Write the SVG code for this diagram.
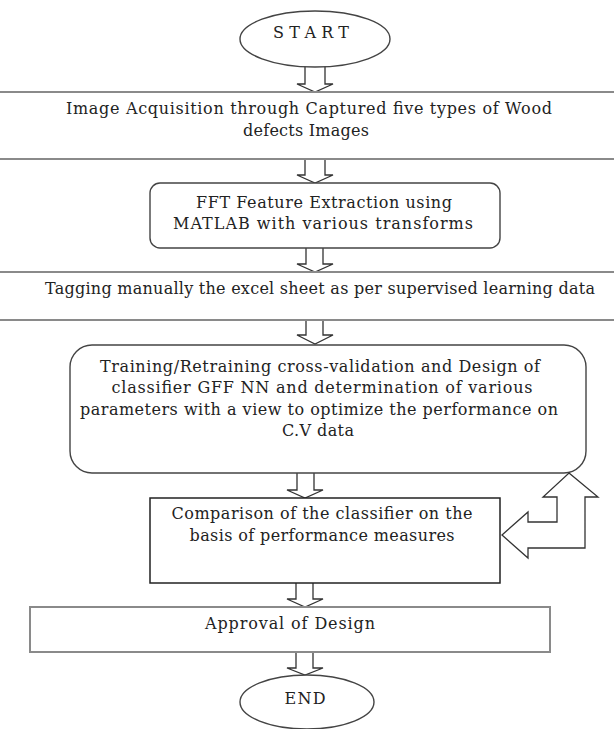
<svg xmlns="http://www.w3.org/2000/svg" width="614" height="729" viewBox="0 0 614 729">
<style>
text{font-family:"DejaVu Serif","Liberation Serif",serif;font-size:16px;fill:#222;text-anchor:middle}
.gl{stroke:#8a8a8a;stroke-width:2;fill:none}
.bx{stroke:#444;stroke-width:1.4;fill:#fff}
.ar{stroke:#333;stroke-width:1.3;fill:#fff}
</style>
<rect width="614" height="729" fill="#fff"/>
<g id="connectors">
<path class="ar" d="M305,66 V84 H297 L315,92 L333,84 H325 V66"/>
<path class="ar" d="M305,159 V175 H297 L315,183 L333,175 H325 V159"/>
<path class="ar" d="M306,248 V264 H297 L315,272 L333,264 H323 V248"/>
<path class="ar" d="M306,320 V335 H297 L315,344 L333,335 H323 V320"/>
<path class="ar" d="M297,473 V490 H287 L305,498 L323,490 H314 V473"/>
<path class="ar" d="M296,583 V599 H287 L305,607 L323,599 H313 V583"/>
<path class="ar" d="M296,652 V668 H287 L305,675 L323,668 H313 V652"/>
</g>
<g id="start">
<ellipse cx="315" cy="39" rx="75" ry="28" class="bx"/>
<text x="311" y="38" textLength="76" lengthAdjust="spacing">START</text>
</g>
<g id="acquisition">
<rect x="-5" y="92" width="624" height="67" class="gl"/>
<text x="309" y="114" textLength="486" lengthAdjust="spacing">Image Acquisition through Captured five types of Wood</text>
<text x="306" y="136" textLength="126" lengthAdjust="spacing">defects Images</text>
</g>
<g id="fft">
<rect x="150" y="183" width="350" height="65" rx="10" class="bx"/>
<text x="324" y="208" textLength="256" lengthAdjust="spacing">FFT Feature Extraction using</text>
<text x="323" y="229" textLength="300" lengthAdjust="spacing">MATLAB with various transforms</text>
</g>
<g id="tagging">
<rect x="-5" y="272" width="624" height="48" class="gl"/>
<text x="320" y="294" textLength="550" lengthAdjust="spacing">Tagging manually the excel sheet as per supervised learning data</text>
</g>
<g id="training">
<rect x="70" y="345" width="516" height="128" rx="22" class="bx"/>
<text x="320" y="372" textLength="440" lengthAdjust="spacing">Training/Retraining cross-validation and Design of</text>
<text x="322" y="393" textLength="421" lengthAdjust="spacing">classifier GFF NN and determination of various</text>
<text x="319" y="415" textLength="478" lengthAdjust="spacing">parameters with a view to optimize the performance on</text>
<text x="318" y="436" textLength="72" lengthAdjust="spacing">C.V data</text>
</g>
<g id="feedback">
<path class="ar" d="M569,473 L598,497 H585 V548 H528 V558 L502,535 L528,512 V522 H557 V497 H543 Z"/>
</g>
<g id="comparison">
<rect x="150" y="498" width="350" height="85" style="stroke:#222;stroke-width:1.5;fill:#fff"/>
<text x="322" y="519" textLength="301" lengthAdjust="spacing">Comparison of the classifier on the</text>
<text x="322" y="541" textLength="265" lengthAdjust="spacing">basis of performance measures</text>
</g>
<g id="approval">
<rect x="30" y="607" width="520" height="45" class="gl"/>
<text x="290" y="629" textLength="170" lengthAdjust="spacing">Approval of Design</text>
</g>
<g id="end">
<ellipse cx="307" cy="702" rx="67" ry="27" class="bx"/>
<text x="305" y="704" textLength="41" lengthAdjust="spacing">END</text>
</g>
</svg>
